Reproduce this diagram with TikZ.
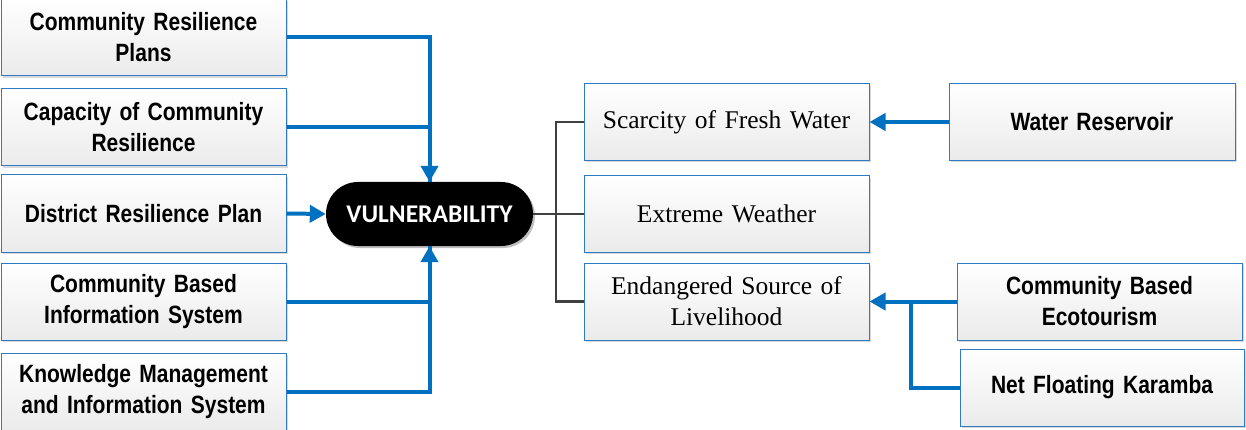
\documentclass[tikz,border=0pt]{standalone}
\usepackage{fontspec}
\newfontfamily\narrowfont[FakeStretch=0.84]{Liberation Sans}
\newfontfamily\seriffont[WordSpace=0.8]{Liberation Serif}
\newfontfamily\pillfont{Carlito}
\usetikzlibrary{shadows,arrows.meta}
\definecolor{bblue}{HTML}{0070C0}
\definecolor{bborder}{HTML}{2E7BC4}
\definecolor{dgray}{HTML}{404040}
\tikzset{
  box/.style={draw=bborder, line width=1pt, top color=white, bottom color=black!8,
    minimum width=285pt, minimum height=77pt, inner sep=2pt, align=center,
    text width=275pt,
    drop shadow={shadow xshift=2pt, shadow yshift=-2pt, fill=black!15, opacity=1}},
  lbox/.style={box, font=\narrowfont\bfseries\fontsize{25}{31}\selectfont},
  sbox/.style={box, font=\seriffont\fontsize{25.5}{31}\selectfont},
  pill/.style={fill=black, rounded corners=32pt, minimum width=207pt, minimum height=64pt,
    text=white, font=\pillfont\bfseries\fontsize{25.5}{28}\selectfont,
    drop shadow={shadow xshift=2pt, shadow yshift=-2pt, fill=black!25, opacity=1}},
  barrow/.style={draw=bblue, line width=4pt, -{Triangle[length=16pt,width=17pt]}},
  bline/.style={draw=bblue, line width=4pt},
  gline/.style={draw=dgray, line width=2.2pt},
}
\begin{document}
\begin{tikzpicture}[x=1pt,y=-1pt]
\useasboundingbox (0,0) rectangle (1246,430);
% left column
\node[lbox] (b1) at (143.5,37.5) {Community Resilience\\Plans};
\node[lbox] (b2) at (143.5,127.5) {Capacity of Community\\Resilience};
\node[lbox] (b3) at (143.5,213.5) {District Resilience Plan};
\node[lbox] (b4) at (143.5,301.5) {Community Based\\Information System};
\node[lbox] (b5) at (143.5,391.5) {Knowledge Management\\and Information System};
% center
\node[pill] (v) at (429.5,214) {VULNERABILITY};
% middle column
\node[sbox] (sa) at (726.5,122) {Scarcity of Fresh Water};
\node[sbox, minimum height=76pt] (sb) at (726.5,214) {Extreme Weather};
\node[sbox] (sc) at (726.5,301.5) {Endangered Source of\\Livelihood};
% right column
\node[lbox, minimum width=286pt] (wr) at (1092,122) {Water Reservoir};
\node[lbox] (eco) at (1099.5,301.5) {Community Based\\Ecotourism};
\node[lbox, minimum width=284pt] (nfk) at (1102,387.5) {Net Floating Karamba};
\coordinate (j) at (556,214);
\coordinate (k) at (911,301.5);
% connectors left
\draw[bline] (b2.east) -| (v.north);
\draw[barrow] (b1.east) -| (v.north);
\draw[barrow] (b3.east) -- (v.west);
\draw[bline] (b5.east) -| (v.south);
\draw[barrow] (b4.east) -| (v.south);
% gray tree
\draw[gline] (v.east) -- (sb.west);
\draw[gline] (sa.west) -| (j) |- (sc.west);
% right connectors
\draw[barrow] (wr.west) -- (sa.east);
\draw[barrow] (eco.west) -- (sc.east);
\draw[bline] (nfk.west) -| (k);
\end{tikzpicture}
\end{document}
